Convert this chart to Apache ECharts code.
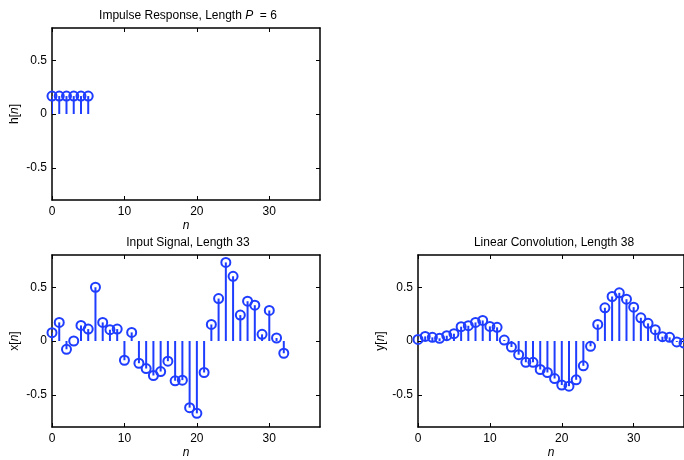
<!DOCTYPE html>
<html>
<head>
<meta charset="utf-8">
<script src="https://cdn.jsdelivr.net/npm/echarts@6/dist/echarts.min.js"></script>
<style>
  html, body { margin: 0; padding: 0; background: #fff; }
  #chart { width: 684px; height: 460px; }
</style>
</head>
<body>
<div id="chart"></div>
<script>
// values
const hValues = [0.167, 0.167, 0.167, 0.167, 0.167, 0.167];
const xValues = [
  0.077, 0.173, -0.077, 0.0, 0.145, 0.111, 0.5, 0.173, 0.105, 0.111,
  -0.179, 0.08, -0.207, -0.256, -0.321, -0.284, -0.188, -0.37, -0.364, -0.62,
  -0.673, -0.293, 0.154, 0.395, 0.731, 0.602, 0.241, 0.37, 0.333, 0.062,
  0.284, 0.028, -0.114
];
const yValues = [
  0.015, 0.043, 0.034, 0.025, 0.049, 0.068, 0.133, 0.142, 0.173, 0.191,
  0.136, 0.127, 0.009, -0.056, -0.127, -0.198, -0.198, -0.265, -0.293, -0.349,
  -0.41, -0.42, -0.361, -0.231, -0.049, 0.154, 0.309, 0.414, 0.448, 0.389,
  0.315, 0.216, 0.164, 0.105, 0.04, 0.034, -0.009, -0.019
];
const xTicks = [0, 10, 20, 30];
const yTicks = [-0.5, 0, 0.5];
const yTickLabels = ['-0.5', '0', '0.5'];

const BLUE = '#1f3dff';
const FONT = 'Liberation Sans, Arial, sans-serif';

const panels = [
  { title: 'Impulse Response, Length {i|P}  = 6', yName: 'h[{i|n}]', values: hValues, left: 52, top: 28 },
  { title: 'Input Signal, Length 33', yName: 'x[{i|n}]', values: xValues, left: 52, top: 255 },
  { title: 'Linear Convolution, Length 38', yName: 'y[{i|n}]', values: yValues, left: 418, top: 255 },
];
const W = 268, H = 172;

const richI = { i: { fontStyle: 'italic', fontSize: 12, fontFamily: FONT, color: '#000' } };

const option = {
  animation: false,
  title: [], grid: [], xAxis: [], yAxis: [], series: [],
};

panels.forEach((p, k) => {
  option.grid.push({
    left: p.left, top: p.top, width: W, height: H,
    show: false,
  });
  option.title.push({
    text: p.title,
    left: p.left + W / 2 - 3,
    top: p.top - 23,
    textAlign: 'center',
    textStyle: { fontSize: 12, fontWeight: 'normal', fontFamily: FONT, color: '#000', rich: richI },
  });
  const tickStyle = { show: true, inside: true, length: 4, lineStyle: { color: '#000', width: 1 } };
  // bottom x axis
  option.xAxis.push({
    type: 'value', gridIndex: k, position: 'bottom', min: 0, max: 37,
    name: '{i|n}', nameLocation: 'middle', nameGap: 20,
    nameTextStyle: { fontSize: 12, fontFamily: FONT, color: '#000', rich: richI },
    axisLine: { show: true, onZero: false, lineStyle: { color: '#000', width: 1.5 } },
    axisTick: Object.assign({ customValues: xTicks }, tickStyle),
    axisLabel: { customValues: xTicks, margin: 6, fontSize: 12, fontFamily: FONT, color: '#000' },
    splitLine: { show: false },
  });
  // top x axis (box + ticks)
  option.xAxis.push({
    type: 'value', gridIndex: k, position: 'top', min: 0, max: 37,
    axisLine: { show: true, onZero: false, lineStyle: { color: '#000', width: 1.5 } },
    axisTick: Object.assign({ customValues: xTicks }, tickStyle),
    axisLabel: { show: false },
    splitLine: { show: false },
  });
  // left y axis
  option.yAxis.push({
    type: 'value', gridIndex: k, position: 'left', min: -0.8, max: 0.8,
    name: p.yName, nameLocation: 'middle', nameGap: 31, nameRotate: 90,
    nameTextStyle: { fontSize: 12, fontFamily: FONT, color: '#000', rich: richI },
    axisLine: { show: true, onZero: false, lineStyle: { color: '#000', width: 1.5 } },
    axisTick: Object.assign({ customValues: yTicks }, tickStyle),
    axisLabel: {
      customValues: yTicks, margin: 5, fontSize: 12, fontFamily: FONT, color: '#000',
      formatter: (v) => yTickLabels[yTicks.indexOf(Math.round(v * 10) / 10)] ?? String(v),
    },
    splitLine: { show: false },
  });
  // right y axis (box + ticks)
  option.yAxis.push({
    type: 'value', gridIndex: k, position: 'right', min: -0.8, max: 0.8,
    axisLine: { show: true, onZero: false, lineStyle: { color: '#000', width: 1.5 } },
    axisTick: Object.assign({ customValues: yTicks }, tickStyle),
    axisLabel: { show: false },
    splitLine: { show: false },
  });

  const pts = p.values.map((v, n) => [n, v]);
  option.series.push({
    type: 'custom',
    xAxisIndex: 2 * k, yAxisIndex: 2 * k,
    clip: true,
    data: pts,
    renderItem(params, api) {
      const a = api.coord([api.value(0), 0]);
      const b = api.coord([api.value(0), api.value(1)]);
      return {
        type: 'line',
        shape: { x1: a[0], y1: a[1], x2: b[0], y2: b[1] },
        style: { stroke: BLUE, lineWidth: 2 },
      };
    },
  });
  option.series.push({
    type: 'scatter',
    xAxisIndex: 2 * k, yAxisIndex: 2 * k,
    clip: true,
    symbol: 'circle',
    symbolSize: 9,
    data: pts,
    itemStyle: { color: 'rgba(0,0,0,0)', borderColor: BLUE, borderWidth: 2, opacity: 1 },
    z: 3,
  });
});

const chart = echarts.init(document.getElementById('chart'));
chart.setOption(option);
window.addEventListener('resize', () => chart.resize());
</script>
</body>
</html>
